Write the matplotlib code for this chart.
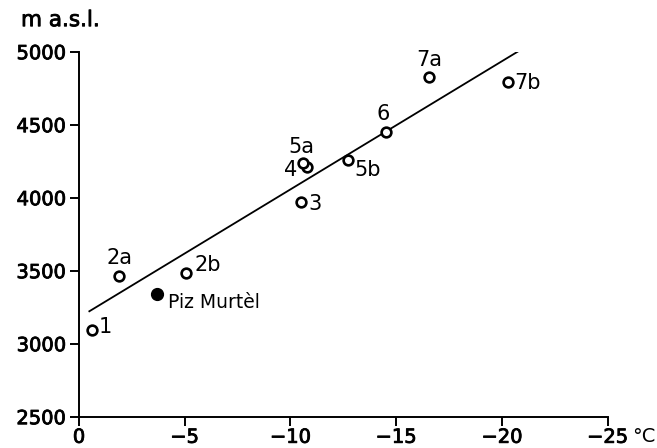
import matplotlib.pyplot as plt
import matplotlib.patheffects as pe
import numpy as np

# temperature (degC) and altitude (m a.s.l.)
labels = ["1", "2a", "2b", "3", "4", "5a", "5b", "6", "7a", "7b"]
temp = [-0.63, -1.88, -5.04, -10.48, -10.76, -10.57, -12.7, -14.5, -16.54, -20.27]
alt = [3094, 3466, 3486, 3968, 4208, 4240, 4258, 4452, 4829, 4795]

piz_temp = -3.7
piz_alt = 3340

# regression line: alt = intercept + slope * temp
fit_intercept = 3179
fit_slope = -87.8
fit_range = [-0.49, -20.8]

xticks = [0, -5, -10, -15, -20, -25]
yticks = [2500, 3000, 3500, 4000, 4500, 5000]

# label offsets in pixels (dx, dy, ha)
offsets = {
    "1": (6, 3, "left"),
    "2a": (1, 18, "center"),
    "2b": (9, 8, "left"),
    "3": (8, -2, "left"),
    "4": (-9, -3, "right"),
    "5a": (-1, 16, "center"),
    "5b": (7, -10, "left"),
    "6": (-2, 18, "center"),
    "7a": (0, 17, "center"),
    "7b": (7, -1, "left"),
}

medium = [pe.withStroke(linewidth=0.6, foreground="black")]

fig = plt.figure(figsize=(6.57, 4.48), dpi=100)
ax = fig.add_axes([0.1202, 0.0699, 0.8048, 0.8147])

fx = np.array(fit_range)
ax.plot(fx, fit_intercept + fit_slope * fx, color="black", lw=1.3, zorder=1)

ax.plot(temp, alt, "o", mfc="white", mec="black", ms=7, mew=1.9, zorder=3)
ax.plot([piz_temp], [piz_alt], "o", color="black", ms=8.5, zorder=3)

for lab, x, y in zip(labels, temp, alt):
    dx, dy, ha = offsets[lab]
    ax.annotate(lab, (x, y), xytext=(dx, dy), textcoords="offset pixels",
                ha=ha, va="center", fontsize=15)
ax.annotate("Piz Murtèl", (piz_temp, piz_alt), xytext=(11, -8),
            textcoords="offset pixels", ha="left", va="center", fontsize=13.5)

ax.set_xlim(0, -25)
ax.set_ylim(2500, 5000)
ax.set_xticks(xticks)
ax.set_yticks(yticks)
ax.set_xticklabels(["0" if t == 0 else "\u2212" + str(-t) for t in xticks])
for s in ["top", "right"]:
    ax.spines[s].set_visible(False)
for s in ["left", "bottom"]:
    ax.spines[s].set_linewidth(1.4)
ax.tick_params(direction="out", length=6.5, width=1.4, labelsize=14)
ax.tick_params(axis="x", pad=1.5)
ax.tick_params(axis="y", pad=3)
for t in ax.get_yticklabels() + ax.get_xticklabels():
    t.set_path_effects(medium)

fig.text(0.962, 0.004, "°C", ha="left", va="bottom", fontsize=14)
fig.text(0.032, 0.955, "m a.s.l.", ha="left", va="center", fontsize=15.5,
         path_effects=medium)

fig.savefig("out.png", dpi=100)
